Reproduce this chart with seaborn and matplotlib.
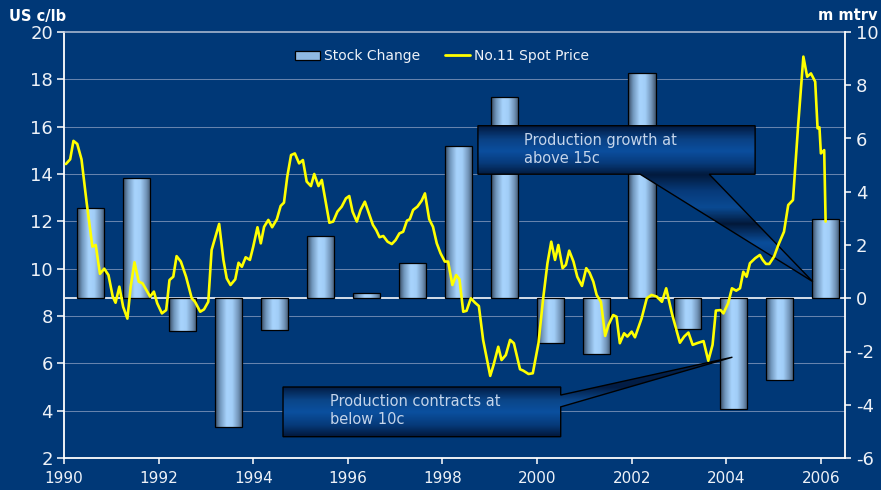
import numpy as np
import pandas as pd
import matplotlib
matplotlib.use("Agg")
import matplotlib.pyplot as plt
import seaborn as sns
from matplotlib.colors import LinearSegmentedColormap
from matplotlib.patches import Polygon, Patch
from matplotlib.lines import Line2D

# ---------------- data ----------------
years = [str(y) for y in range(1990, 2007)]
stock_change = [3.39, 4.51, -1.24, -4.82, -1.19, 2.33, 0.20, 1.33, 5.70, 7.57,
                -1.69, -2.09, 8.46, -1.15, -4.15, -3.06, 2.96]

# No.11 spot price (US c/lb); time in years since 1990
t_1990_93 = [0.04, 0.13, 0.20, 0.28, 0.37, 0.48, 0.60, 0.67, 0.76, 0.85,
             0.94, 1.03, 1.09, 1.17, 1.25, 1.34, 1.41, 1.49, 1.58, 1.66,
             1.76, 1.82, 1.90, 1.97, 2.07, 2.16, 2.23, 2.31, 2.38, 2.47,
             2.58, 2.70, 2.77, 2.88, 2.96, 3.05, 3.12, 3.28, 3.37, 3.44,
             3.52, 3.62, 3.69, 3.76, 3.84]
p_1990_93 = [14.42, 14.62, 15.4, 15.27, 14.62, 12.77, 10.93, 11.0, 9.78, 10.0,
             9.73, 8.82, 8.56, 9.24, 8.39, 7.89, 9.24, 10.27, 9.45, 9.38,
             9.03, 8.82, 9.03, 8.54, 8.11, 8.25, 9.52, 9.66, 10.53, 10.3,
             9.66, 8.75, 8.6, 8.18, 8.28, 8.6, 10.79, 11.89, 10.37, 9.59,
             9.31, 9.55, 10.25, 10.08, 10.48]
t_1994_98 = [3.93, 4.00, 4.09, 4.16, 4.23, 4.32, 4.40, 4.50, 4.58, 4.65,
             4.72, 4.80, 4.88, 4.97, 5.05, 5.13, 5.22, 5.29, 5.38, 5.45,
             5.61, 5.69, 5.78, 5.87, 5.96, 6.03, 6.10, 6.19, 6.27, 6.36,
             6.45, 6.53, 6.60, 6.67, 6.75, 6.84, 6.93, 7.01, 7.09, 7.17,
             7.25, 7.31, 7.38, 7.47, 7.56, 7.63, 7.72, 7.80, 7.88, 7.96,
             8.05, 8.12]
p_1994_98 = [10.37, 10.93, 11.75, 11.07, 11.77, 12.06, 11.75, 12.09, 12.65, 12.79,
             13.89, 14.8, 14.87, 14.45, 14.59, 13.68, 13.49, 14.0, 13.49, 13.75,
             11.94, 11.99, 12.41, 12.62, 12.97, 13.07, 12.41, 11.99, 12.48, 12.83,
             12.31, 11.85, 11.63, 11.33, 11.38, 11.14, 11.04, 11.21, 11.49, 11.56,
             12.03, 12.09, 12.48, 12.62, 12.87, 13.18, 12.09, 11.77, 11.07, 10.65,
             10.3, 10.3]
t_1998_02 = [8.21, 8.29, 8.36, 8.44, 8.51, 8.60, 8.69, 8.77, 8.86, 9.01,
             9.08, 9.18, 9.25, 9.34, 9.43, 9.51, 9.64, 9.71, 9.82, 9.91,
             10.03, 10.13, 10.22, 10.30, 10.38, 10.45, 10.54, 10.61, 10.68, 10.77,
             10.85, 10.95, 11.04, 11.11, 11.19, 11.26, 11.35, 11.44, 11.51, 11.61,
             11.68, 11.75, 11.84, 11.91, 12.00, 12.07]
p_1998_02 = [9.31, 9.73, 9.55, 8.18, 8.22, 8.75, 8.56, 8.42, 6.99, 5.47,
             5.93, 6.7, 6.14, 6.35, 6.99, 6.85, 5.75, 5.69, 5.55, 5.58,
             6.85, 8.75, 10.23, 11.14, 10.37, 11.0, 10.02, 10.16, 10.76, 10.3,
             9.66, 9.27, 10.02, 9.83, 9.45, 8.89, 8.6, 7.16, 7.62, 8.04,
             7.97, 6.85, 7.27, 7.13, 7.34, 7.1]
t_2002_06 = [12.21, 12.32, 12.42, 12.53, 12.64, 12.73, 12.85, 13.02, 13.11, 13.20,
             13.29, 13.38, 13.52, 13.62, 13.71, 13.78, 13.88, 13.94, 14.04, 14.12,
             14.21, 14.29, 14.36, 14.43, 14.50, 14.61, 14.71, 14.77, 14.84, 14.91,
             15.01, 15.10, 15.22, 15.31, 15.41, 15.52, 15.63, 15.71, 15.79, 15.88,
             15.93, 15.97, 16.00, 16.07, 16.10]
p_2002_06 = [7.9, 8.75, 8.89, 8.82, 8.6, 9.17, 8.11, 6.87, 7.13, 7.3,
             6.78, 6.85, 6.94, 6.11, 6.78, 8.23, 8.25, 8.11, 8.54, 9.17,
             9.07, 9.17, 9.87, 9.66, 10.23, 10.44, 10.58, 10.37, 10.2, 10.2,
             10.51, 11.0, 11.56, 12.69, 12.9, 16.07, 18.96, 18.11, 18.25, 17.9,
             15.93, 15.97, 14.87, 15.01, 11.99]

left_ticks = list(range(2, 21, 2))
right_ticks = list(range(-6, 11, 2))
x_ticks = list(range(1990, 2007, 2))

callout_top = "Production growth at\nabove 15c"
callout_bottom = "Production contracts at\nbelow 10c"

# ---------------- style ----------------
BG = "#003877"
TXT = "#eef2f8"
GRID = "#6683ad"
YELLOW = "#ffff00"

sns.set_theme(style="white")
plt.rcParams["font.family"] = ["DejaVu Sans"]
plt.rcParams["axes.unicode_minus"] = False

W, H = 881, 490
fig = plt.figure(figsize=(W / 100, H / 100), dpi=100, facecolor=BG)
rect = [64 / W, (H - 458) / H, (845 - 64) / W, (458 - 32) / H]

ax = fig.add_axes(rect)          # grid + left/bottom axes
axb = fig.add_axes(rect)         # bars on the right axis
axt = fig.add_axes(rect, sharex=ax, sharey=ax)  # line + callouts on top

ax.set_facecolor(BG)
axb.patch.set_visible(False)
axt.patch.set_visible(False)

# --- grid / left axis ---
ax.set_xlim(1990, 2006.51)
ax.set_ylim(2, 20)
ax.set_yticks(left_ticks)
ax.set_xticks(x_ticks)
for v in left_ticks[1:-1]:
    ax.axhline(v, color=GRID, lw=0.75, zorder=0)
ax.tick_params(axis="y", colors="white", labelcolor=TXT, labelsize=13,
               length=5, width=1.1, direction="out", pad=3, left=True)
ax.tick_params(axis="x", colors="white", labelcolor=TXT, labelsize=11,
               length=4, width=1.1, direction="out", pad=5, bottom=True)
for s in ["left", "bottom"]:
    ax.spines[s].set_color("white")
    ax.spines[s].set_linewidth(1.3)
ax.spines["top"].set_color("#b3c0d6")
ax.spines["top"].set_linewidth(1.1)
ax.spines["right"].set_visible(False)
ax.grid(False)

# --- bars ---
df_bar = pd.DataFrame({"year": years, "change": stock_change})
sns.barplot(data=df_bar, x="year", y="change", ax=axb, width=0.59,
            color="#8fb9e2", edgecolor="black", linewidth=0.9,
            saturation=1, zorder=3)
bar_cmap = LinearSegmentedColormap.from_list(
    "cyl", [(0.0, "#34485f"), (0.18, "#7096bc"), (0.42, "#a8d4fd"),
            (0.62, "#a2cef8"), (0.84, "#7294b8"), (1.0, "#3d536c")])
grad = np.linspace(0, 1, 256).reshape(1, -1)
for p in list(axb.patches):
    x0, y0, w, h = p.get_x(), p.get_y(), p.get_width(), p.get_height()
    p.set_facecolor("none")
    im = axb.imshow(grad, cmap=bar_cmap, aspect="auto", interpolation="bicubic",
                    extent=[x0, x0 + w, min(y0, y0 + h), max(y0, y0 + h)], zorder=2)
    im.set_clip_path(p)
axb.axhline(0, color="#e6ebf2", lw=1.3, zorder=1)
axb.set_xlim(-0.5835, 16.42)
axb.set_ylim(-6, 10)
axb.set_yticks(right_ticks)
axb.set_xticks([])
axb.set_xlabel("")
axb.set_ylabel("")
axb.yaxis.tick_right()
axb.tick_params(axis="y", colors="white", labelcolor=TXT, labelsize=13,
                length=4, width=1.1, direction="out", pad=4, right=True)
for s in ["left", "top", "bottom"]:
    axb.spines[s].set_visible(False)
axb.spines["right"].set_color("white")
axb.spines["right"].set_linewidth(1.3)
axb.grid(False)


# --- callouts ---
def gradient_shape(axis, verts, stops, text, text_xy):
    ys = [v[1] for v in verts]
    xs = [v[0] for v in verts]
    top, bot = max(ys), min(ys)
    cm = LinearSegmentedColormap.from_list(
        "c", [((top - val) / (top - bot), col) for val, col in stops])
    poly = Polygon(verts, closed=True, facecolor="none", edgecolor="black",
                   lw=1.0, zorder=4)
    axis.add_patch(poly)
    img = axis.imshow(np.linspace(0, 1, 300).reshape(-1, 1), cmap=cm,
                      aspect="auto", origin="upper", interpolation="bilinear",
                      extent=[min(xs), max(xs), bot, top], zorder=3)
    img.set_clip_path(poly)
    axis.text(text_xy[0], text_xy[1], text, color="#c4d4ea", fontsize=10.5,
              va="top", ha="left", linespacing=1.3, zorder=5)


verts1 = [(1998.75, 16.04), (2004.61, 16.04), (2004.61, 13.99), (2003.64, 13.99),
          (2005.83, 9.45), (2002.18, 13.99), (1998.75, 13.99)]
stops1 = [(16.04, "#021c44"), (15.5, "#0a4184"), (15.0, "#0b4e9e"),
          (14.5, "#073b7c"), (13.99, "#021a3d"), (13.3, "#073a7a"),
          (12.6, "#0a4a93"), (11.9, "#02193a"), (11.1, "#0a4d9a"),
          (10.2, "#063b7e"), (9.45, "#042a5c")]
gradient_shape(axt, verts1, stops1, callout_top, (1999.72, 15.75))

verts2 = [(1994.63, 5.0), (2000.50, 5.0), (2000.50, 4.66), (2004.13, 6.26),
          (2000.50, 4.16), (2000.50, 2.90), (1994.63, 2.90)]
stops2 = [(6.26, "#032553"), (5.0, "#021c44"), (4.45, "#0a4588"),
          (3.95, "#0b509f"), (3.4, "#063a7a"), (2.90, "#02173a")]
gradient_shape(axt, verts2, stops2, callout_bottom, (1995.63, 4.72))

# --- price line ---
t_all = np.concatenate([t_1990_93, t_1994_98, t_1998_02, t_2002_06]) + 1990
p_all = np.concatenate([p_1990_93, p_1994_98, p_1998_02, p_2002_06])
df_line = pd.DataFrame({"t": t_all, "price": p_all})
sns.lineplot(data=df_line, x="t", y="price", ax=axt, color=YELLOW, lw=1.9,
             sort=False, zorder=6)
axt.set_xlim(1990, 2006.51)
axt.set_ylim(2, 20)
axt.axis("off")

# --- labels & legend ---
fig.text(9 / W, 1 - 21 / H, "US c/lb", color="white", fontsize=10.5,
         fontweight="bold", va="baseline", ha="left")
fig.text(877 / W, 1 - 20 / H, "m mtrv", color="white", fontsize=10.5,
         fontweight="bold", va="baseline", ha="right")

handles = [Patch(facecolor="#8fb9e2", edgecolor="black", lw=0.9),
           Line2D([], [], color=YELLOW, lw=2)]
fig.legend(handles, ["Stock Change", "No.11 Spot Price"], loc="center",
           bbox_to_anchor=(442 / W, 1 - 56 / H), ncol=2, frameon=False,
           fontsize=10, labelcolor=TXT, handlelength=1.8, handleheight=0.6,
           handletextpad=0.3, columnspacing=1.8)

fig.savefig("out.png", dpi=100, facecolor=BG)
